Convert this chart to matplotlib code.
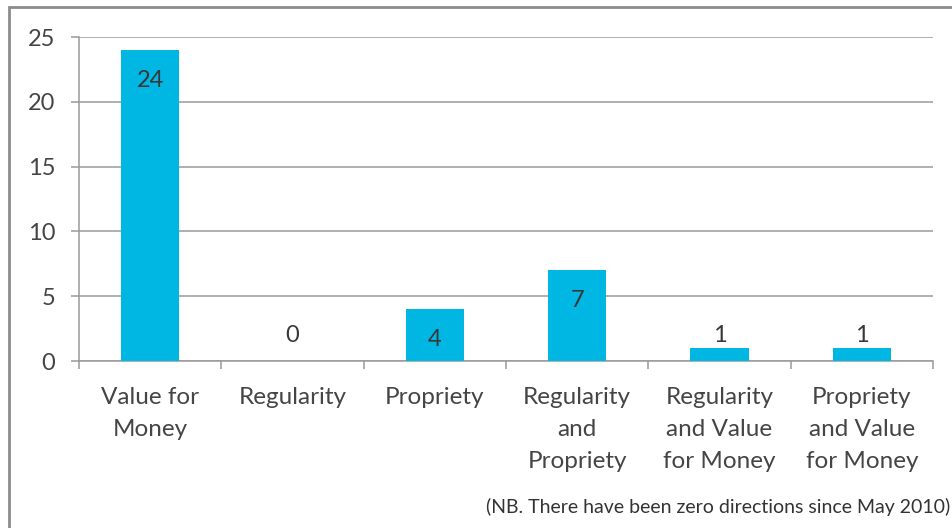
import matplotlib
matplotlib.use("Agg")
from matplotlib import pyplot as plt
import matplotlib.patches as patches
import numpy as np

plt.rcParams['font.family'] = ['Lato', 'DejaVu Sans']

# data
categories = ["Value for\nMoney", "Regularity", "Propriety", "Regularity\nand\nPropriety",
              "Regularity\nand Value\nfor Money", "Propriety\nand Value\nfor Money"]
values = [24, 0, 4, 7, 1, 1]
y_ticks = [0, 5, 10, 15, 20, 25]
note = "(NB. There have been zero directions since May 2010)"

bar_color = "#00B6E3"
text_color = "#454545"
line_color = "#9a9a9a"

fig = plt.figure(figsize=(9.52, 5.28), dpi=100)
ax = fig.add_axes([79 / 952, 1 - 361 / 528, (933 - 79) / 952, (361 - 37) / 528])

x = np.arange(len(categories))
ax.bar(x, values, width=0.41, color=bar_color, zorder=3)

ax.set_xlim(-0.5, len(categories) - 0.5)
ax.set_ylim(0, 25)
ax.set_yticks(y_ticks)
ax.set_xticks(x)
ax.set_xticklabels(categories, linespacing=1.66)
ax.set_xticks(np.arange(len(categories) + 1) - 0.5, minor=True)

ax.grid(axis='y', color=line_color, linewidth=1.1, zorder=0)
for s in ['top', 'right']:
    ax.spines[s].set_visible(False)
for s in ['left', 'bottom']:
    ax.spines[s].set_color(line_color)
    ax.spines[s].set_linewidth(1.1)

ax.tick_params(axis='y', length=6, width=1.1, color=line_color, labelsize=17,
               labelcolor=text_color, pad=11)
ax.tick_params(axis='x', which='major', length=0, labelsize=17.5, labelcolor=text_color, pad=18.5)
ax.tick_params(axis='x', which='minor', length=6, width=1.1, color=line_color)

# data labels: inside the top of tall bars, above short ones
for xi, v in zip(x, values):
    if v >= 3:
        ax.annotate(str(v), (xi, v), xytext=(0, -22), textcoords='offset points',
                    ha='center', va='center', fontsize=17, color="#383838", zorder=4)
    else:
        ax.annotate(str(v), (xi, 0), xytext=(0, 18), textcoords='offset points',
                    ha='center', va='center', fontsize=17, color="#383838", zorder=4)

fig.text(950 / 952, 1 - 507 / 528, note, ha='right', va='center', fontsize=14, color="#333333")

# chart border
fig.patches.append(patches.Rectangle((9 / 952, -0.01), 1.0, 1 - 7 / 528 + 0.01,
                                     transform=fig.transFigure, fill=False,
                                     edgecolor="#8c8c8c", linewidth=2))

fig.savefig("out.png", dpi=100)
